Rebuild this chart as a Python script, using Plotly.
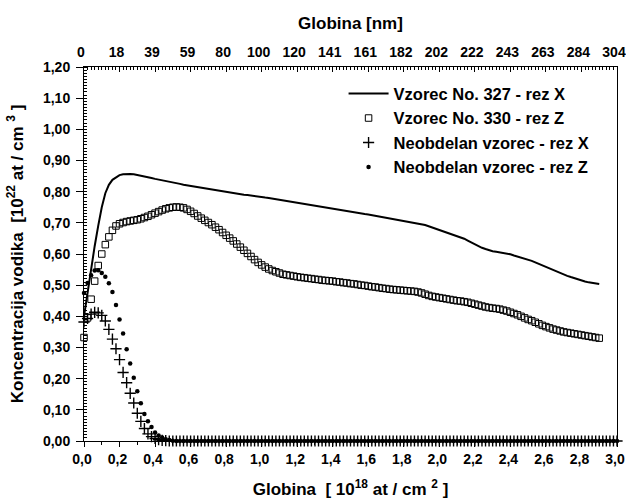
import plotly.graph_objects as go

# ---------------- data ----------------
depth = [
    0.00, 0.02, 0.04, 0.06, 0.08, 0.10, 0.12, 0.14, 0.16, 0.18,
    0.20, 0.22, 0.24, 0.26, 0.28, 0.30, 0.32, 0.34, 0.36, 0.38,
    0.40, 0.42, 0.44, 0.46, 0.48, 0.50, 0.52, 0.54, 0.56, 0.58,
    0.60, 0.62, 0.64, 0.66, 0.68, 0.70, 0.72, 0.74, 0.76, 0.78,
    0.80, 0.82, 0.84, 0.86, 0.88, 0.90, 0.92, 0.94, 0.96, 0.98,
    1.00, 1.02, 1.04, 1.06, 1.08, 1.10, 1.12, 1.14, 1.16, 1.18,
    1.20, 1.22, 1.24, 1.26, 1.28, 1.30, 1.32, 1.34, 1.36, 1.38,
    1.40, 1.42, 1.44, 1.46, 1.48, 1.50, 1.52, 1.54, 1.56, 1.58,
    1.60, 1.62, 1.64, 1.66, 1.68, 1.70, 1.72, 1.74, 1.76, 1.78,
    1.80, 1.82, 1.84, 1.86, 1.88, 1.90, 1.92, 1.94, 1.96, 1.98,
    2.00, 2.02, 2.04, 2.06, 2.08, 2.10, 2.12, 2.14, 2.16, 2.18,
    2.20, 2.22, 2.24, 2.26, 2.28, 2.30, 2.32, 2.34, 2.36, 2.38,
    2.40, 2.42, 2.44, 2.46, 2.48, 2.50, 2.52, 2.54, 2.56, 2.58,
    2.60, 2.62, 2.64, 2.66, 2.68, 2.70, 2.72, 2.74, 2.76, 2.78,
    2.80, 2.82, 2.84, 2.86, 2.88, 2.90, 2.92, 2.94, 2.96, 2.98,
    3.00,
]

# Vzorec No. 327 - rez X (line), depth 0.00 .. 2.90
s327 = [
    0.400, 0.480, 0.555, 0.625, 0.690, 0.750, 0.795, 0.822, 0.838, 0.847,
    0.853, 0.856, 0.857, 0.857, 0.856, 0.854, 0.851, 0.848, 0.846, 0.844,
    0.841, 0.839, 0.837, 0.835, 0.833, 0.830, 0.828, 0.825, 0.822, 0.820,
    0.818, 0.816, 0.814, 0.812, 0.810, 0.808, 0.806, 0.804, 0.802, 0.800,
    0.798, 0.796, 0.795, 0.793, 0.792, 0.790, 0.789, 0.787, 0.786, 0.784,
    0.783, 0.781, 0.780, 0.778, 0.776, 0.774, 0.772, 0.770, 0.768, 0.766,
    0.764, 0.762, 0.760, 0.758, 0.756, 0.754, 0.752, 0.750, 0.748, 0.746,
    0.745, 0.743, 0.741, 0.739, 0.737, 0.735, 0.733, 0.731, 0.730, 0.728,
    0.727, 0.725, 0.723, 0.721, 0.719, 0.717, 0.715, 0.713, 0.710, 0.708,
    0.706, 0.704, 0.702, 0.701, 0.699, 0.696, 0.693, 0.689, 0.685, 0.681,
    0.677, 0.674, 0.671, 0.667, 0.663, 0.659, 0.654, 0.649, 0.643, 0.637,
    0.631, 0.625, 0.620, 0.616, 0.612, 0.609, 0.607, 0.605, 0.604, 0.602,
    0.599, 0.595, 0.592, 0.588, 0.585, 0.582, 0.578, 0.573, 0.568, 0.563,
    0.559, 0.554, 0.549, 0.544, 0.539, 0.535, 0.530, 0.526, 0.522, 0.518,
    0.515, 0.512, 0.509, 0.507, 0.505, 0.504,
]

# Vzorec No. 330 - rez Z (open squares), depth 0.00 .. 2.90
s330 = [
    0.332, 0.395, 0.455, 0.513, 0.563, 0.600, 0.630, 0.655, 0.676, 0.690,
    0.697, 0.701, 0.704, 0.706, 0.708, 0.710, 0.713, 0.717, 0.721, 0.726,
    0.731, 0.736, 0.741, 0.745, 0.748, 0.750, 0.751, 0.750, 0.748, 0.743,
    0.737, 0.730, 0.722, 0.715, 0.708, 0.701, 0.694, 0.686, 0.678, 0.669,
    0.660, 0.651, 0.642, 0.632, 0.622, 0.612, 0.602, 0.592, 0.582, 0.573,
    0.565, 0.558, 0.552, 0.547, 0.543, 0.539, 0.535, 0.533, 0.531, 0.529,
    0.527, 0.525, 0.524, 0.522, 0.521, 0.519, 0.518, 0.516, 0.515, 0.514,
    0.513, 0.511, 0.510, 0.508, 0.507, 0.505, 0.504, 0.502, 0.500, 0.499,
    0.497, 0.495, 0.494, 0.492, 0.490, 0.489, 0.487, 0.486, 0.485, 0.484,
    0.483, 0.482, 0.481, 0.480, 0.478, 0.475, 0.471, 0.467, 0.464, 0.462,
    0.460, 0.458, 0.456, 0.454, 0.452, 0.450, 0.449, 0.447, 0.445, 0.442,
    0.439, 0.436, 0.433, 0.430, 0.428, 0.426, 0.425, 0.423, 0.420, 0.417,
    0.413, 0.409, 0.405, 0.400, 0.395, 0.390, 0.386, 0.381, 0.376, 0.371,
    0.367, 0.363, 0.359, 0.356, 0.353, 0.350, 0.348, 0.346, 0.344, 0.342,
    0.340, 0.338, 0.336, 0.334, 0.332, 0.330,
]

# Neobdelan vzorec - rez X (crosses), depth 0.00 .. 3.00
neo_x = [
    0.382, 0.393, 0.407, 0.413, 0.411, 0.403, 0.385, 0.358, 0.327, 0.296,
    0.261, 0.220, 0.187, 0.153, 0.122, 0.089, 0.063, 0.040, 0.023, 0.014,
    0.008, 0.004, 0.002, 0.001, 0.0, 0.0, 0.0, 0.0, 0.0, 0.0,
    0.0, 0.0, 0.0, 0.0, 0.0, 0.0, 0.0, 0.0, 0.0, 0.0,
    0.0, 0.0, 0.0, 0.0, 0.0, 0.0, 0.0, 0.0, 0.0, 0.0,
    0.0, 0.0, 0.0, 0.0, 0.0, 0.0, 0.0, 0.0, 0.0, 0.0,
    0.0, 0.0, 0.0, 0.0, 0.0, 0.0, 0.0, 0.0, 0.0, 0.0,
    0.0, 0.0, 0.0, 0.0, 0.0, 0.0, 0.0, 0.0, 0.0, 0.0,
    0.0, 0.0, 0.0, 0.0, 0.0, 0.0, 0.0, 0.0, 0.0, 0.0,
    0.0, 0.0, 0.0, 0.0, 0.0, 0.0, 0.0, 0.0, 0.0, 0.0,
    0.0, 0.0, 0.0, 0.0, 0.0, 0.0, 0.0, 0.0, 0.0, 0.0,
    0.0, 0.0, 0.0, 0.0, 0.0, 0.0, 0.0, 0.0, 0.0, 0.0,
    0.0, 0.0, 0.0, 0.0, 0.0, 0.0, 0.0, 0.0, 0.0, 0.0,
    0.0, 0.0, 0.0, 0.0, 0.0, 0.0, 0.0, 0.0, 0.0, 0.0,
    0.0, 0.0, 0.0, 0.0, 0.0, 0.0, 0.0, 0.0, 0.0, 0.0,
    0.0,
]

# Neobdelan vzorec - rez Z (dots), depth 0.00 .. 3.00
neo_z = [
    0.475, 0.507, 0.532, 0.547, 0.548, 0.539, 0.527, 0.506, 0.478, 0.436,
    0.390, 0.345, 0.294, 0.249, 0.203, 0.160, 0.121, 0.087, 0.063, 0.045,
    0.027, 0.018, 0.011, 0.006, 0.003, 0.001, 0.0, 0.0, 0.0, 0.0,
    0.0, 0.0, 0.0, 0.0, 0.0, 0.0, 0.0, 0.0, 0.0, 0.0,
    0.0, 0.0, 0.0, 0.0, 0.0, 0.0, 0.0, 0.0, 0.0, 0.0,
    0.0, 0.0, 0.0, 0.0, 0.0, 0.0, 0.0, 0.0, 0.0, 0.0,
    0.0, 0.0, 0.0, 0.0, 0.0, 0.0, 0.0, 0.0, 0.0, 0.0,
    0.0, 0.0, 0.0, 0.0, 0.0, 0.0, 0.0, 0.0, 0.0, 0.0,
    0.0, 0.0, 0.0, 0.0, 0.0, 0.0, 0.0, 0.0, 0.0, 0.0,
    0.0, 0.0, 0.0, 0.0, 0.0, 0.0, 0.0, 0.0, 0.0, 0.0,
    0.0, 0.0, 0.0, 0.0, 0.0, 0.0, 0.0, 0.0, 0.0, 0.0,
    0.0, 0.0, 0.0, 0.0, 0.0, 0.0, 0.0, 0.0, 0.0, 0.0,
    0.0, 0.0, 0.0, 0.0, 0.0, 0.0, 0.0, 0.0, 0.0, 0.0,
    0.0, 0.0, 0.0, 0.0, 0.0, 0.0, 0.0, 0.0, 0.0, 0.0,
    0.0, 0.0, 0.0, 0.0, 0.0, 0.0, 0.0, 0.0, 0.0, 0.0,
    0.0,
]

series_names = [
    "Vzorec No. 327 - rez X",
    "Vzorec No. 330 - rez Z",
    "Neobdelan vzorec - rez X",
    "Neobdelan vzorec - rez Z",
]

top_tick_pos = [0.0, 0.2, 0.4, 0.6, 0.8, 1.0, 1.2, 1.4, 1.6, 1.8,
                2.0, 2.2, 2.4, 2.6, 2.8, 3.0]
top_tick_labels = ["0", "18", "39", "59", "80", "100", "120", "141", "161",
                   "182", "202", "222", "243", "263", "284", "304"]

# ---------------- figure ----------------
FONT = "Liberation Sans, Arial, Helvetica, sans-serif"
font_tick = dict(family=FONT, size=14, color="black", weight="bold")
font_title = dict(family=FONT, size=17, color="black", weight="bold")
font_leg = dict(family=FONT, size=16.5, color="black", weight="bold")

fig = go.Figure()
fig.add_trace(go.Scatter(
    x=depth[:len(s327)], y=s327, mode="lines", name=series_names[0],
    line=dict(color="black", width=2), cliponaxis=False))
fig.add_trace(go.Scatter(
    x=depth[:len(s330)], y=s330, mode="markers", name=series_names[1],
    marker=dict(symbol="square-open", size=6.5, color="black",
                line=dict(width=1, color="black")), cliponaxis=False))
fig.add_trace(go.Scatter(
    x=depth[:len(neo_x)], y=neo_x, mode="markers", name=series_names[2],
    marker=dict(symbol="cross-thin-open", size=8, color="black",
                line=dict(width=1.4, color="black")), cliponaxis=False))
fig.add_trace(go.Scatter(
    x=depth[:len(neo_z)], y=neo_z, mode="markers", name=series_names[3],
    marker=dict(symbol="circle", size=4.5, color="black"), cliponaxis=False))
# carrier trace for top (nm) axis
fig.add_trace(go.Scatter(
    x=[top_tick_pos[0], top_tick_pos[-1]], y=[None, None], xaxis="x2",
    mode="markers", showlegend=False, hoverinfo="skip"))

fig.update_layout(
    width=626, height=504,
    margin=dict(l=84, r=9, t=67, b=63),
    paper_bgcolor="white", plot_bgcolor="white",
    separators=",.",
    font=font_tick,
    showlegend=True,
    legend=dict(x=0.487, y=0.975, xanchor="left", yanchor="top",
                bgcolor="rgba(0,0,0,0)", font=font_leg, traceorder="normal",
                itemwidth=40, tracegroupgap=0),
    xaxis=dict(
        range=[0, 3.0], tickmode="linear", tick0=0, dtick=0.2,
        tickformat=".1f", ticks="outside", ticklen=5, tickwidth=1,
        tickcolor="black", showline=True, linecolor="black", linewidth=1,
        showgrid=False, zeroline=False, tickfont=font_tick,
        ticklabeloverflow="allow", ticklabelshift=-2,
        minor=dict(tickmode="linear", tick0=0, dtick=0.1, ticks="outside",
                   ticklen=3, tickcolor="black", showgrid=False),
        title=dict(text="Globina  [ 10<sup>18</sup> at / cm <sup>2</sup> ]",
                   font=font_title, standoff=17),
        automargin=False,
    ),
    xaxis2=dict(
        overlaying="x", side="top", range=[0, 3.0], tickmode="array",
        tickvals=top_tick_pos, ticktext=top_tick_labels,
        ticks="inside", ticklen=5, tickwidth=1, tickcolor="black",
        showline=True, linecolor="black", linewidth=1, showgrid=False,
        zeroline=False, tickfont=font_tick, ticklabeloverflow="allow",
        ticklabelshift=-3, ticklabelstandoff=3,
        minor=dict(tickmode="linear", tick0=0, dtick=0.02, ticks="inside",
                   ticklen=3, tickcolor="black", showgrid=False),
        title=dict(text="Globina [nm]", font=font_title, standoff=10),
        automargin=False,
    ),
    yaxis=dict(
        range=[0, 1.2], tickmode="linear", tick0=0, dtick=0.1,
        tickformat=".2f", ticks="outside", ticklen=7, tickwidth=1,
        tickcolor="black", showline=True, linecolor="black", linewidth=1,
        mirror=True, showgrid=False, zeroline=False, tickfont=font_tick,
        ticklabelstandoff=3,
        minor=dict(tickmode="linear", tick0=0, dtick=0.01, ticks="inside",
                   ticklen=3, tickcolor="black", showgrid=False),
        title=dict(text="Koncentracija vodika  [10<sup>22</sup> at / cm <sup>3</sup> ]",
                   font=font_title, standoff=15),
        automargin=False,
    ),
)

fig.write_html("out.html")
